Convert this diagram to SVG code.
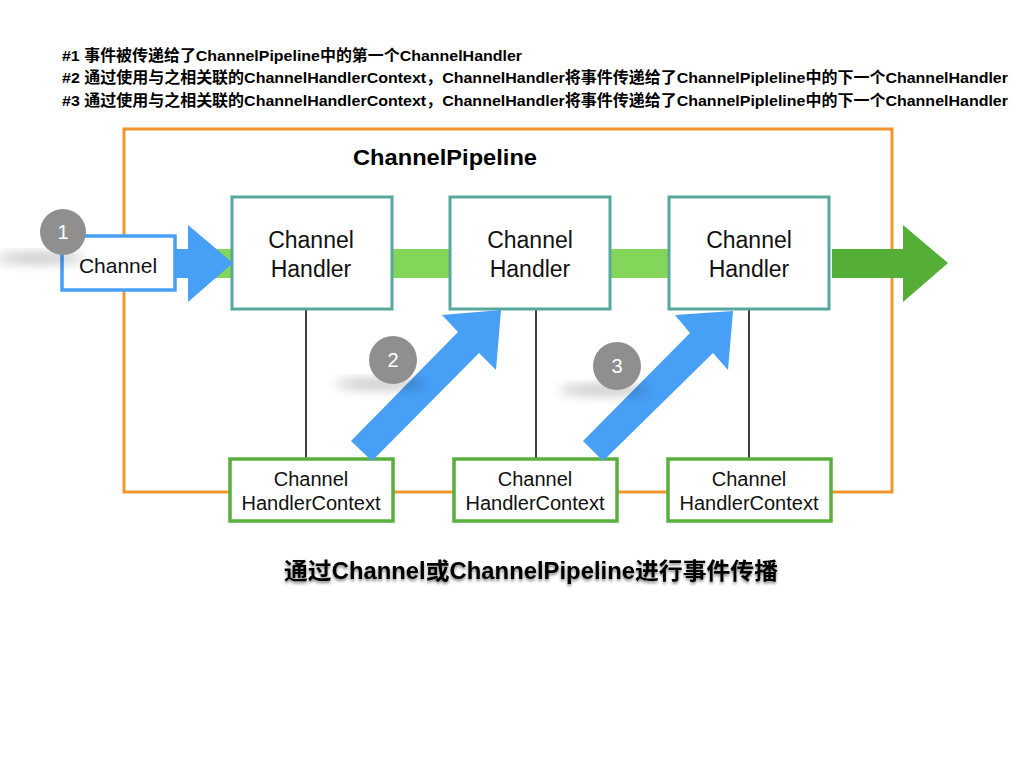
<svg xmlns="http://www.w3.org/2000/svg" width="1024" height="768" viewBox="0 0 1024 768">
<style>
.hdr{font-family:"Liberation Sans","Noto Sans CJK SC",sans-serif;font-weight:bold;font-size:15.5px;fill:#000}
.t{font-family:"Liberation Sans","Noto Sans CJK SC",sans-serif;fill:#111;text-anchor:middle}
.h{stroke:#56A89D;stroke-width:3;fill:#fff}
.c{stroke:#5BAF3C;stroke-width:3.5;fill:#fff}
.num{font-family:"Liberation Sans",sans-serif;font-size:20px;fill:#fff;text-anchor:middle}
.badge{fill:#8F8F8F}
.blue{fill:#479FF6}
</style>
<defs>
<filter id="sh" x="-100%" y="-50%" width="300%" height="250%">
<feGaussianBlur stdDeviation="6"/>
</filter>
<filter id="tsh" x="-5%" y="-30%" width="110%" height="160%">
<feGaussianBlur in="SourceAlpha" stdDeviation="1.5"/>
<feOffset dx="0" dy="2" result="b"/>
<feComponentTransfer><feFuncA type="linear" slope="0.5"/></feComponentTransfer>
<feMerge><feMergeNode/><feMergeNode in="SourceGraphic"/></feMerge>
</filter>
</defs>
<rect width="1024" height="768" fill="#fff"/>
<g id="header">
<text class="hdr" x="62" y="61" textLength="460" lengthAdjust="spacingAndGlyphs">#1 事件被传递给了ChannelPipeline中的第一个ChannelHandler</text>
<text class="hdr" x="62" y="83" textLength="946" lengthAdjust="spacingAndGlyphs">#2 通过使用与之相关联的ChannelHandlerContext，ChannelHandler将事件传递给了ChannelPipleline中的下一个ChannelHandler</text>
<text class="hdr" x="62" y="106" textLength="946" lengthAdjust="spacingAndGlyphs">#3 通过使用与之相关联的ChannelHandlerContext，ChannelHandler将事件传递给了ChannelPipleline中的下一个ChannelHandler</text>
</g>
<g id="pipeline">
<rect x="124" y="129" width="768" height="363" fill="none" stroke="#F0952F" stroke-width="3"/>
<text x="353" y="165" textLength="184" lengthAdjust="spacingAndGlyphs" style="font-family:'Liberation Sans',sans-serif;font-weight:bold;font-size:22px;fill:#000">ChannelPipeline</text>
</g>
<g id="connectors">
<rect x="180" y="249" width="60" height="29" fill="#84D65A"/>
<rect x="390" y="249" width="62" height="29" fill="#84D65A"/>
<rect x="608" y="249" width="62" height="29" fill="#84D65A"/>
<polygon points="832,249 903,249 903,225 948,263 903,302 903,278 832,278" fill="#55AE36"/>
<line x1="306" y1="309" x2="306" y2="458" stroke="#000" stroke-width="1.5"/>
<line x1="536" y1="309" x2="536" y2="458" stroke="#000" stroke-width="1.5"/>
<line x1="749" y1="309" x2="749" y2="458" stroke="#000" stroke-width="1.5"/>
</g>
<g id="handler1">
<rect class="h" x="232" y="197" width="160" height="112"/>
<text class="t" x="311" y="248" font-size="23">Channel</text>
<text class="t" x="311" y="277" font-size="23">Handler</text>
</g>
<g id="handler2">
<rect class="h" x="450" y="197" width="160" height="112"/>
<text class="t" x="530" y="248" font-size="23">Channel</text>
<text class="t" x="530" y="277" font-size="23">Handler</text>
</g>
<g id="handler3">
<rect class="h" x="669" y="197" width="160" height="112"/>
<text class="t" x="749" y="248" font-size="23">Channel</text>
<text class="t" x="749" y="277" font-size="23">Handler</text>
</g>
<g id="context1">
<rect class="c" x="230" y="459" width="163" height="62"/>
<text class="t" x="311" y="486" font-size="20">Channel</text>
<text class="t" x="311" y="510" font-size="20">HandlerContext</text>
</g>
<g id="context2">
<rect class="c" x="454" y="459" width="163" height="62"/>
<text class="t" x="535" y="486" font-size="20">Channel</text>
<text class="t" x="535" y="510" font-size="20">HandlerContext</text>
</g>
<g id="context3">
<rect class="c" x="668" y="459" width="163" height="62"/>
<text class="t" x="749" y="486" font-size="20">Channel</text>
<text class="t" x="749" y="510" font-size="20">HandlerContext</text>
</g>
<g id="channel">
<rect x="62" y="236" width="113" height="54" fill="#fff" stroke="#479FF6" stroke-width="3.5"/>
<text class="t" x="118" y="273" font-size="21">Channel</text>
<polygon class="blue" points="175,249 188,249 188,225 233,263 188,302 188,278 175,278"/>
</g>
<g id="arrow2">
<polygon class="blue" points="351,441 458,332 442,315 501,310 496,370 479,353 372,461"/>
</g>
<g id="arrow3">
<polygon class="blue" points="583,441 690,333 675,315 733,311 728,370 713,353 603,461"/>
</g>
<g id="badge1">
<ellipse cx="40" cy="258" rx="45" ry="5" fill="#000" opacity="0.25" filter="url(#sh)"/>
<circle class="badge" cx="63" cy="232" r="23"/>
<text class="num" x="63" y="239">1</text>
</g>
<g id="badge2">
<ellipse cx="380" cy="384" rx="45" ry="5" fill="#000" opacity="0.25" filter="url(#sh)"/>
<circle class="badge" cx="393" cy="360" r="24"/>
<text class="num" x="393" y="367">2</text>
</g>
<g id="badge3">
<ellipse cx="604" cy="390" rx="45" ry="5" fill="#000" opacity="0.25" filter="url(#sh)"/>
<circle class="badge" cx="617" cy="366" r="24"/>
<text class="num" x="617" y="373">3</text>
</g>
<g id="title">
<text x="284" y="579" textLength="494" lengthAdjust="spacingAndGlyphs" filter="url(#tsh)" style="font-family:'Liberation Sans','Noto Sans CJK SC',sans-serif;font-weight:bold;font-size:23px;fill:#000">通过Channel或ChannelPipeline进行事件传播</text>
</g>
</svg>
